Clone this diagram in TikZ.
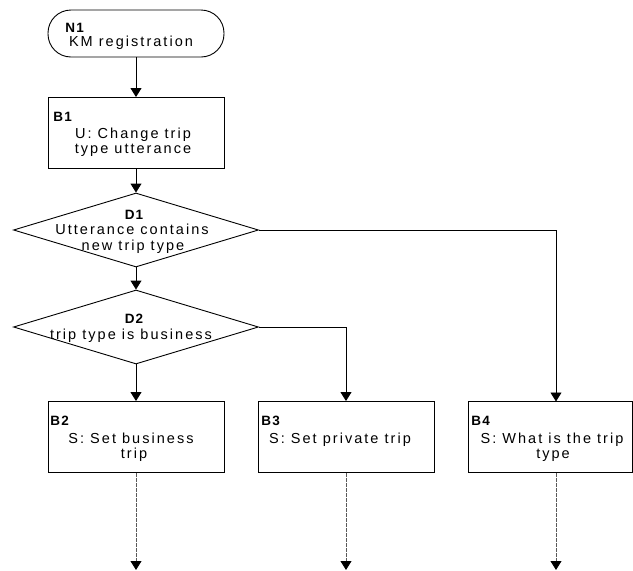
\documentclass[tikz,border=0pt]{standalone}
\usepackage{fontspec}
\setmainfont{Liberation Sans}
\newfontfamily\bodyfont{Liberation Sans}[LetterSpace=14]
\newfontfamily\tagfont{Liberation Sans}[LetterSpace=8]
\usetikzlibrary{arrows.meta,shapes.geometric,calc}
\begin{document}
\begin{tikzpicture}[x=1pt,y=-1pt,
  line width=0.9pt,
  shapebox/.style={draw,rectangle,inner sep=0pt},
  terminal/.style={draw,rectangle,rounded corners=23pt,inner sep=0pt,
    minimum width=176pt,minimum height=47pt},
  stepbox/.style={shapebox,minimum width=176pt,minimum height=71pt},
  decision/.style={draw,diamond,inner sep=0pt,minimum width=245pt,minimum height=74pt},
  tag/.style={inner sep=0pt,anchor=base west,font=\tagfont\bfseries\fontsize{13.5}{15}\selectfont},
  body/.style={inner sep=0pt,anchor=base,font=\bodyfont\fontsize{14.5}{16}\selectfont},
  flow/.style={-{Triangle[width=11pt,length=9pt]}},
  pending/.style={-{Triangle[width=11pt,length=9pt,color=black]},
    dash pattern=on 4pt off 1pt,draw=black!65}
]
\useasboundingbox (0,0) rectangle (633,571);

% shapes
\node[terminal] (n1) at (136,33.5) {};
\node[stepbox] (b1) at (136,133) {};
\node[decision] (d1) at (136,230) {};
\node[decision] (d2) at (136,327) {};
\node[stepbox] (b2) at (136,437) {};
\node[stepbox] (b3) at (346,437) {};
\node[shapebox,minimum width=164pt,minimum height=71pt] (b4) at (550,437) {};

% texts
\node[tag] (n1t) at (65,32) {N1};
\node[body] (n1a) at (131,46) {KM registration};

\node[tag] (b1t) at (53,121) {B1};
\node[body] (b1a) at (133,138) {U: Change trip};
\node[body] (b1b) at (133,153) {type utterance};

\node[tag,anchor=base] (d1t) at (134,219) {D1};
\node[body] (d1a) at (132,234) {Utterance contains};
\node[body] (d1b) at (133,250) {new trip type};

\node[tag,anchor=base] (d2t) at (134,323) {D2};
\node[body] (d2a) at (131,339) {trip type is business};

\node[tag] (b2t) at (50,425) {B2};
\node[body] (b2a) at (131,443) {S: Set business};
\node[body] (b2b) at (134,458) {trip};

\node[tag] (b3t) at (261,425) {B3};
\node[body] (b3a) at (340,443) {S: Set private trip};

\node[tag] (b4t) at (471,425) {B4};
\node[body] (b4a) at (552,443) {S: What is the trip};
\node[body] (b4b) at (553,458) {type};

% connector ends
\coordinate (b4in) at (556,401.5);
\coordinate (e2) at (136,570);
\coordinate (e3) at (346,570);
\coordinate (e4) at (556,570);

% connectors
\draw[flow] (n1.south) -- (b1.north);
\draw[flow] (b1.south) -- (d1.north);
\draw[flow] (d1.south) -- (d2.north);
\draw[flow] (d2.south) -- (b2.north);
\draw[flow] (d2.east) -| (b3.north);
\draw[flow] (d1.east) -| (b4in);
\draw[pending] (b2.south) -- (e2);
\draw[pending] (b3.south) -- (e3);
\draw[pending] (b4.south -| e4) -- (e4);
\end{tikzpicture}
\end{document}
